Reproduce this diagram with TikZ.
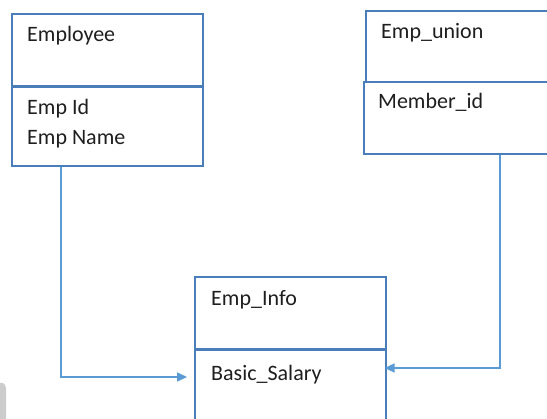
\documentclass[tikz,border=0pt]{standalone}
\usepackage{fontspec}
\setmainfont{Carlito}
\usetikzlibrary{arrows.meta,calc}
\definecolor{boxline}{HTML}{4A7EBB}
\definecolor{linkline}{HTML}{5B9BD5}
\definecolor{txt}{HTML}{1E1E1E}
\begin{document}
\begin{tikzpicture}[x=1pt,y=-1pt,
  box/.style={draw=boxline,line width=1.6pt,rectangle,inner sep=0pt,anchor=north west},
  label/.style={anchor=base west,inner sep=0pt,text=txt,font=\fontsize{22}{26}\selectfont},
  divider/.style={draw=boxline,line width=2.6pt},
  conn/.style={draw=linkline,line width=1.6pt,-{Triangle[length=10pt,width=9pt]}}]
\useasboundingbox (0,0) rectangle (547,419);

% Employee table
\node[box,minimum width=191pt,minimum height=73pt] (empH) at (11,13) {};
\node[box,minimum width=191pt,minimum height=79pt] (empB) at (11,86) {};
\draw[divider] (empB.north west) -- (empB.north east);
\node[label] (tEmp) at (27,42) {Employee};
\node[label] (tEmpId) at (27,115) {Emp Id};
\node[label] (tEmpName) at (27,145) {Emp Name};

% Emp_union table
\node[box,minimum width=200pt,minimum height=71pt] (unH) at (365,10) {};
\node[box,minimum width=200pt,minimum height=72pt] (unB) at (363,81) {};
\node[label] (tUnion) at (381,39) {Emp\_union};
\node[label] (tMember) at (378,109) {Member\_id};

% Emp_Info table
\node[box,minimum width=191pt,minimum height=73pt] (infoH) at (194,276) {};
\node[box,minimum width=191pt,minimum height=90pt] (infoB) at (194,349) {};
\draw[divider] (infoB.north west) -- (infoB.north east);
\node[label] (tInfo) at (211,306) {Emp\_Info};
\node[label] (tSalary) at (211,381) {Basic\_Salary};

% Links
\coordinate (lk1) at (61,377);
\coordinate (lk2) at (500,368);
\draw[conn,shorten >=7pt] (empB.south -| lk1) |- (infoB.west |- lk1);
\draw[conn,shorten >=-2pt] (unB.south -| lk2) |- (infoB.east |- lk2);

% grey corner tab
\fill[gray!40] (0,383) -- (2,383) to[out=0,in=90] (6,390) -- (6,419) -- (0,419) -- cycle;
\end{tikzpicture}
\end{document}
